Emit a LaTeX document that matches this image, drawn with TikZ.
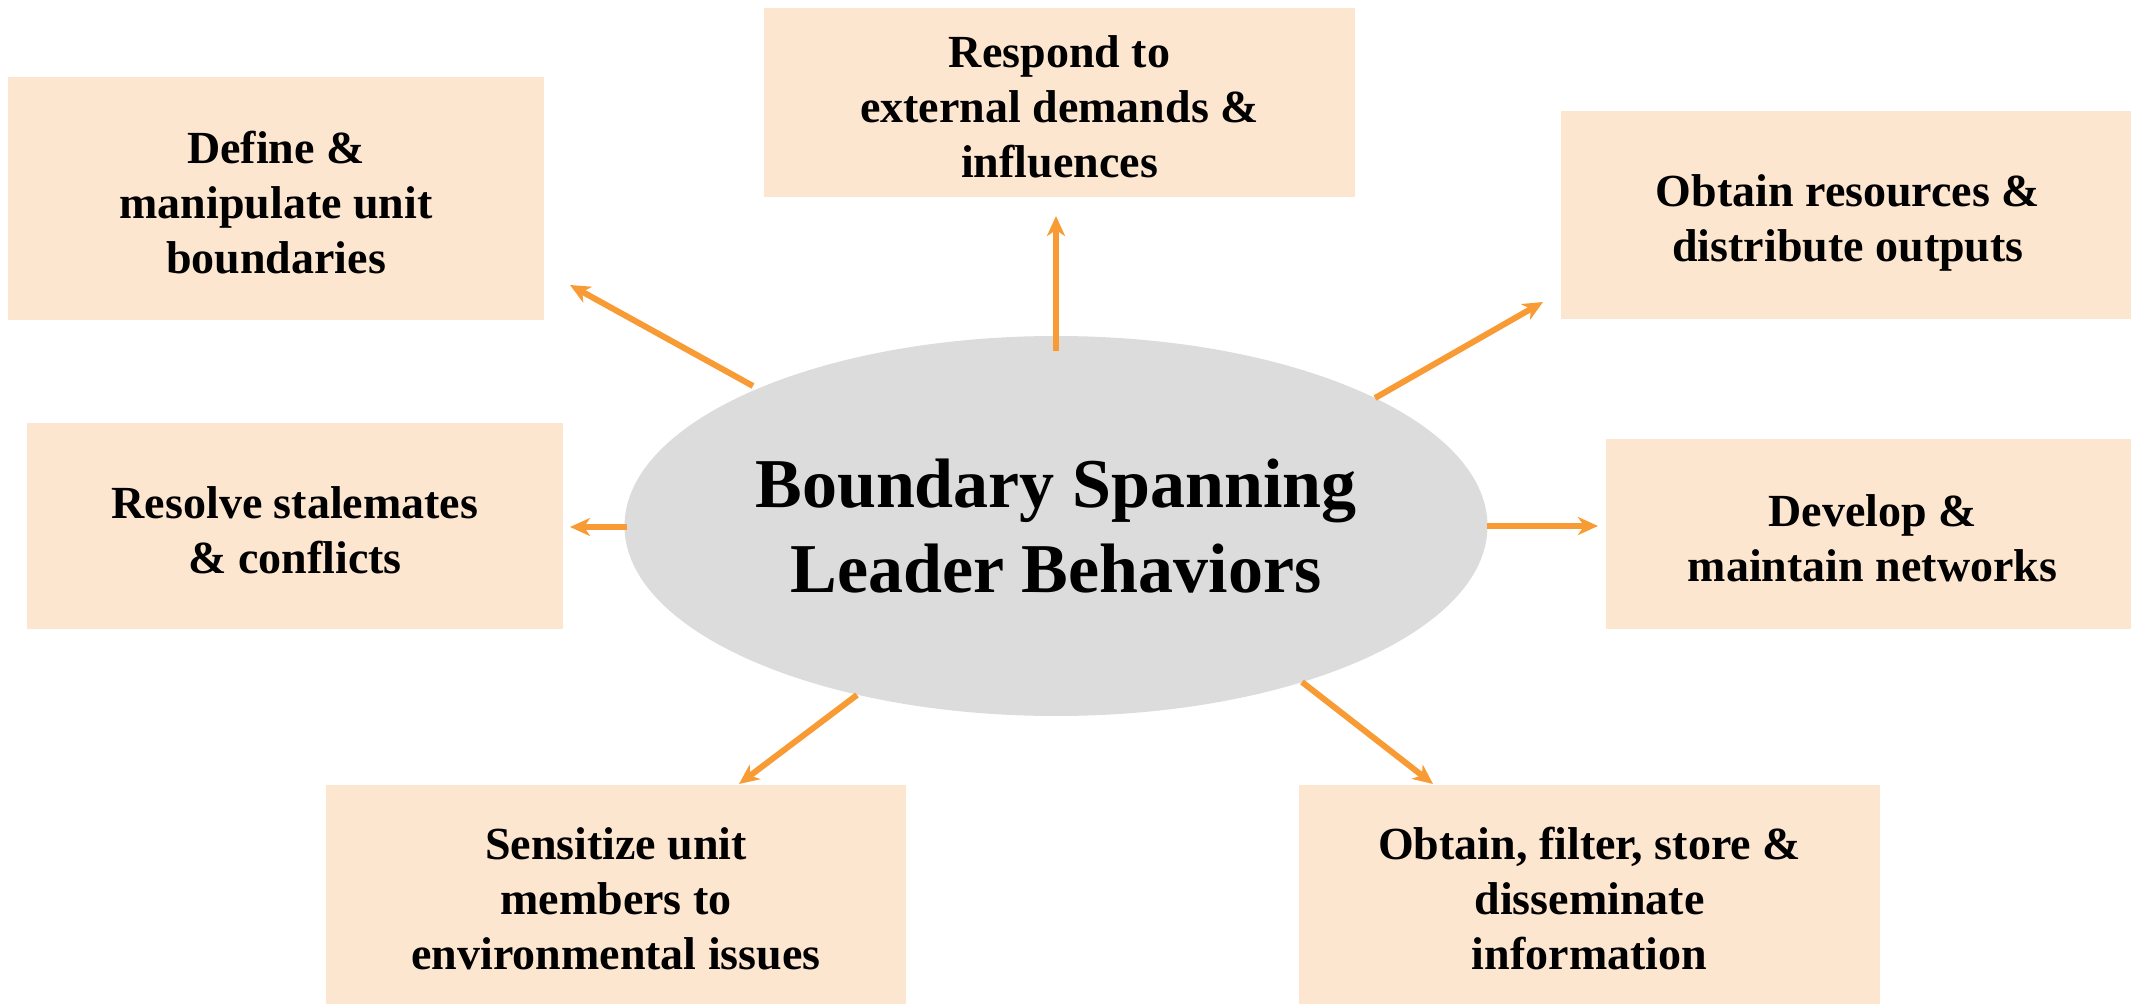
\documentclass[tikz,border=0pt]{standalone}
\usepackage{fontspec}
\setmainfont{Liberation Serif}
\usetikzlibrary{arrows.meta,shapes.geometric}
\definecolor{boxfill}{RGB}{253,230,208}
\definecolor{ellfill}{RGB}{220,220,220}
\definecolor{arrcol}{RGB}{248,155,52}
\tikzset{
  boxnode/.style={rectangle, fill=boxfill, inner sep=0pt},
  boxtext/.style={inner sep=0pt, align=center,
    font=\fontsize{46}{55}\selectfont\bfseries},
  arr/.style={draw=arrcol, line width=6pt,
    -{Stealth[length=20pt,width=18pt,inset=6pt]}}
}
\begin{document}
\begin{tikzpicture}[x=1pt,y=-1pt]
\useasboundingbox (0,0) rectangle (2131,1006);
\node[ellipse, fill=ellfill, minimum width=863pt, minimum height=380pt, inner sep=0pt,
  align=center, font=\fontsize{70}{85}\selectfont\bfseries] (ell) at (1056,526)
  {Boundary Spanning\\Leader Behaviors};
\node[boxnode, minimum width=536pt, minimum height=243pt] (b1) at (276,198.5) {};
\node[boxnode, minimum width=591pt, minimum height=189pt] (b2) at (1059.5,102.5) {};
\node[boxnode, minimum width=570pt, minimum height=208pt] (b3) at (1846,215) {};
\node[boxnode, minimum width=536pt, minimum height=206pt] (b4) at (295,526) {};
\node[boxnode, minimum width=525pt, minimum height=190pt] (b5) at (1868.5,534) {};
\node[boxnode, minimum width=580pt, minimum height=219pt] (b6) at (616,894.5) {};
\node[boxnode, minimum width=581pt, minimum height=219pt] (b7) at (1589.5,894.5) {};
\node[boxtext, yshift=-4pt] (l1) at (b1.center) {Define \&\\manipulate unit\\boundaries};
\node[boxtext, yshift=-4pt] (l2) at (b2.center) {Respond to\\external demands \&\\influences};
\node[boxtext, yshift=-8pt, xshift=2pt] (l3) at (b3.center) {Obtain resources \&\\distribute outputs};
\node[boxtext, yshift=-4pt] (l4) at (b4.center) {Resolve stalemates\\\& conflicts};
\node[boxtext, yshift=-4pt, xshift=4pt] (l5) at (b5.center) {Develop \&\\maintain networks};
\node[boxtext, yshift=-4pt] (l6) at (b6.center) {Sensitize unit\\members to\\environmental issues};
\node[boxtext, yshift=-4pt] (l7) at (b7.center) {Obtain, filter, store \&\\disseminate\\information};
\coordinate (t1) at (753,386);  \coordinate (h1) at (570,285);
\coordinate (t2) at (1056,351); \coordinate (h2) at (1056,216);
\coordinate (t3) at (1375,398); \coordinate (h3) at (1543,302);
\coordinate (t4) at (627,527);  \coordinate (h4) at (570,527);
\coordinate (t5) at (1487,526); \coordinate (h5) at (1598,526);
\coordinate (t6) at (857,695);  \coordinate (h6) at (739,784);
\coordinate (t7) at (1302,682); \coordinate (h7) at (1433,784);
\draw[arr] (t1) -- (h1);
\draw[arr] (t2) -- (h2);
\draw[arr] (t3) -- (h3);
\draw[arr] (t4) -- (h4);
\draw[arr] (t5) -- (h5);
\draw[arr] (t6) -- (h6);
\draw[arr] (t7) -- (h7);
\end{tikzpicture}
\end{document}
